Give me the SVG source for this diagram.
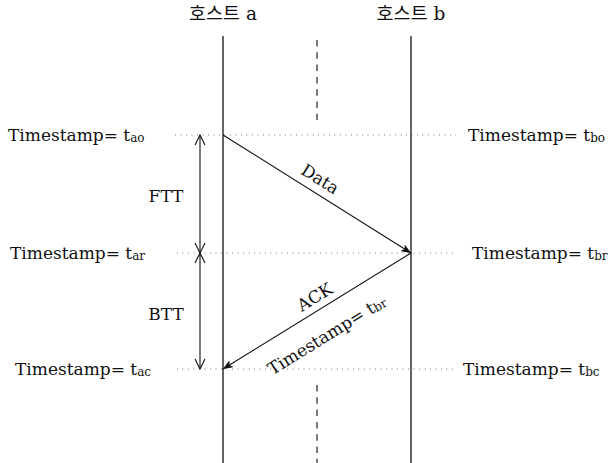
<svg xmlns="http://www.w3.org/2000/svg" width="608" height="463" viewBox="0 0 608 463">
<style>
text{font-family:"DejaVu Serif","Noto Sans CJK KR",serif;fill:#111}
.lbl{font-size:17px}
.sub{font-size:12px}
.host{font-size:18.5px}
.life{stroke:#111;stroke-width:1.3;fill:none}
.dash{stroke:#333;stroke-width:1.3;stroke-dasharray:6.5 5.8;fill:none}
.dot{stroke:#777;stroke-width:1;stroke-dasharray:1 4.5;fill:none}
.msg{stroke:#111;stroke-width:1.1;fill:none}
</style>
<defs>
<marker id="stealth" viewBox="0 0 10 8" refX="10" refY="4" markerWidth="10" markerHeight="8" markerUnits="userSpaceOnUse" orient="auto">
<path d="M0,0 L10,4 L0,8 L2.5,4 Z" fill="#111"/>
</marker>
<marker id="vee" viewBox="0 0 12 12" refX="11" refY="6" markerWidth="12" markerHeight="12" markerUnits="userSpaceOnUse" orient="auto">
<path d="M1,1 L11,6 L1,11" fill="none" stroke="#111" stroke-width="1.1"/>
</marker>
</defs>
<g id="host-a">
<text class="host" x="223" y="20" text-anchor="middle">호스트 a</text>
<line class="life" x1="223" y1="36" x2="223" y2="463"/>
</g>
<g id="host-b">
<text class="host" x="411" y="20" text-anchor="middle">호스트 b</text>
<line class="life" x1="411" y1="36" x2="411" y2="463"/>
</g>
<g id="divider">
<line class="dash" x1="317" y1="40" x2="317" y2="120"/>
<line class="dash" x1="317" y1="385" x2="317" y2="463"/>
</g>
<g id="timelines">
<line class="dot" x1="175" y1="135" x2="456" y2="135"/>
<line class="dot" x1="177" y1="253" x2="456" y2="253"/>
<line class="dot" x1="177" y1="369" x2="456" y2="369"/>
</g>
<g id="labels-left">
<text class="lbl" x="8" y="141">Timestamp= t<tspan class="sub" dy="1">ao</tspan></text>
<text class="lbl" x="10" y="259">Timestamp= t<tspan class="sub" dy="1">ar</tspan></text>
<text class="lbl" x="15" y="375">Timestamp= t<tspan class="sub" dy="1">ac</tspan></text>
</g>
<g id="labels-right">
<text class="lbl" x="468" y="141">Timestamp= t<tspan class="sub" dy="1">bo</tspan></text>
<text class="lbl" x="472" y="259">Timestamp= t<tspan class="sub" dy="1">br</tspan></text>
<text class="lbl" x="463" y="375">Timestamp= t<tspan class="sub" dy="1">bc</tspan></text>
</g>
<g id="connectors">
<line class="msg" x1="223" y1="135" x2="411" y2="253" marker-end="url(#stealth)"/>
<line class="msg" x1="411" y1="253" x2="223" y2="369" marker-end="url(#stealth)"/>
<line class="msg" x1="200" y1="194" x2="200" y2="135" marker-end="url(#vee)"/>
<line class="msg" x1="200" y1="194" x2="200" y2="253" marker-end="url(#vee)"/>
<line class="msg" x1="200" y1="311" x2="200" y2="253" marker-end="url(#vee)"/>
<line class="msg" x1="200" y1="311" x2="200" y2="369" marker-end="url(#vee)"/>
</g>
<g id="span-labels">
<text class="lbl" x="166" y="202" text-anchor="middle">FTT</text>
<text class="lbl" x="166" y="320" text-anchor="middle">BTT</text>
</g>
<g id="msg-labels">
<text class="lbl" transform="translate(317,184) rotate(32.1)" text-anchor="middle">Data</text>
<text class="lbl" transform="translate(318,302) rotate(-31.7)" text-anchor="middle">ACK</text>
<text class="lbl" transform="translate(330,340) rotate(-31.7)" text-anchor="middle">Timestamp= t<tspan class="sub" dy="1">br</tspan></text>
</g>
</svg>
